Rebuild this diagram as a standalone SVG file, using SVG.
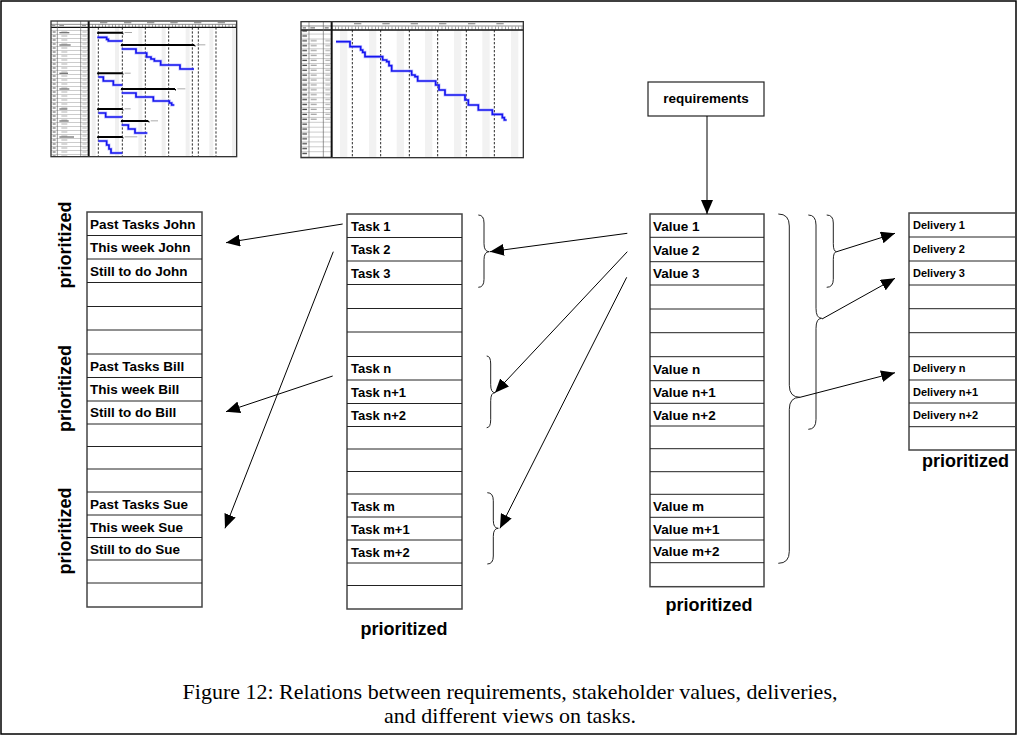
<svg xmlns="http://www.w3.org/2000/svg" width="1018" height="736" viewBox="0 0 1018 736">
<style>
.cell{fill:#fff;stroke:#444;stroke-width:1.5}
.rows{fill:none;stroke:#222;stroke-width:1}
.lbl{font-family:"Liberation Sans",Arial,sans-serif;font-weight:bold;font-size:13.5px;fill:#000}
.tsk{font-size:13px}
.dlv{font-size:11px}
.prio{font-family:"Liberation Sans",Arial,sans-serif;font-weight:bold;font-size:18px;fill:#000}
.conn{fill:none;stroke:#000;stroke-width:1;marker-end:url(#ah)}
.brace{fill:none;stroke:#222;stroke-width:1}
.cap{font-family:"Liberation Serif","Times New Roman",serif;font-size:22px;fill:#000;text-anchor:middle}
.blue{fill:none;stroke:#1515f0;stroke-width:5;stroke-linejoin:miter}
.halo{fill:none;stroke:#9a9aff;stroke-width:9;opacity:0.6}
.dash{stroke:#000;stroke-width:2.5;stroke-dasharray:7 5}
</style>
<defs>
<marker id="ah" markerUnits="userSpaceOnUse" markerWidth="15" markerHeight="12" refX="14" refY="6" orient="auto">
<path d="M0,0 L14,6 L0,12 z" fill="#000"/>
</marker>
<clipPath id="inner"><rect x="0" y="0" width="1015" height="736"/></clipPath>
<pattern id="g1row" patternUnits="userSpaceOnUse" x="0" y="45" width="600" height="12">
<rect x="33" y="0" width="113" height="1.3" fill="#888"/>
<rect x="38" y="4.5" width="9" height="3" fill="#555"/>
<rect x="64" y="4.5" width="18" height="3" fill="#b0b0b0"/>
<rect x="127" y="4.5" width="13" height="3" fill="#b0b0b0"/>
</pattern>
<pattern id="g2row" patternUnits="userSpaceOnUse" x="0" y="70.5" width="700" height="14.7">
<rect x="33" y="0" width="92" height="1.3" fill="#888"/>
<rect x="37" y="5" width="14" height="4" fill="#444"/>
</pattern>
<pattern id="g2name" patternUnits="userSpaceOnUse" x="0" y="70.5" width="700" height="14.7">
<rect x="62" y="5" width="18" height="3.5" fill="#999"/>
<rect x="106" y="5" width="14" height="3.5" fill="#aaa"/>
</pattern>
</defs>
<rect x="0" y="0" width="1018" height="736" fill="#fff"/>

<g id="gantt-1" transform="translate(40,15) scale(0.33333)">
<rect x="33" y="18" width="557" height="407" fill="#fff"/>
<g fill="#f0f0f0">
<rect x="155" y="37" width="12" height="388"/><rect x="225" y="37" width="12" height="388"/><rect x="295" y="37" width="12" height="388"/><rect x="365" y="37" width="12" height="388"/><rect x="437" y="37" width="12" height="388"/><rect x="508" y="37" width="12" height="388"/><rect x="576" y="37" width="12" height="388"/>
</g>
<path class="dash" d="M175 37V425M247 37V425M316 37V425M386 37V425M457 37V425M475 37V425M528 37V425"/>
<rect x="33" y="45" width="113" height="380" fill="url(#g1row)"/>
<path d="M33 28H590" stroke="#555" stroke-width="2"/>
<path d="M146 32.5H590" stroke="#777" stroke-width="8" stroke-dasharray="2 8"/>
<path d="M33 37H590" stroke="#111" stroke-width="4"/>
<g fill="#999"><rect x="180" y="21" width="22" height="4"/><rect x="252" y="21" width="22" height="4"/><rect x="321" y="21" width="22" height="4"/><rect x="391" y="21" width="22" height="4"/><rect x="462" y="21" width="22" height="4"/><rect x="533" y="21" width="22" height="4"/><rect x="36" y="30" width="10" height="4"/><rect x="58" y="30" width="14" height="4"/><rect x="126" y="30" width="12" height="4"/></g>
<path d="M52 18V425M122 18V425" stroke="#666" stroke-width="2"/>
<path d="M146 18V425" stroke="#111" stroke-width="6"/>
<g fill="#777"><rect x="58" y="51" width="30" height="4"/><rect x="58" y="88" width="34" height="4"/><rect x="58" y="173" width="26" height="4"/><rect x="58" y="220" width="30" height="4"/><rect x="58" y="280" width="24" height="4"/><rect x="58" y="316" width="28" height="4"/><rect x="58" y="364" width="44" height="4"/></g>
<g stroke="#000" stroke-width="6"><path d="M172 53H247M243 90H463M172 175H247M243 222H405M172 282H247M243 318H325M172 366H247"/></g>
<g fill="#000"><path d="M170 53h6v6zM244 53h6v6zM241 90h6v6zM460 90h6v6zM170 175h6v6zM244 175h6v6zM241 222h6v6zM402 222h6v6zM170 282h6v6zM244 282h6v6zM241 318h6v6zM322 318h6v6zM170 366h6v6zM244 366h6v6z"/></g>
<g fill="#aaa"><rect x="254" y="51" width="22" height="3"/><rect x="470" y="88" width="26" height="3"/><rect x="254" y="173" width="18" height="3"/><rect x="412" y="220" width="24" height="3"/><rect x="254" y="280" width="18" height="3"/><rect x="332" y="316" width="22" height="3"/><rect x="254" y="364" width="38" height="3"/></g>
<g class="halo">
<path d="M172 67H200V73H205V78H247"/><path d="M245 102H288V114H320V126H333V132H343V138H362V150H420V162H462"/><path d="M175 186H190V198H220V210H247"/><path d="M245 234H288V246H340V258H388V264H395V270H403"/><path d="M175 294H197V306H247"/><path d="M245 330H265V342H285V354H322"/><path d="M175 378H200V390H207V402H213V414H247"/>
</g>
<g class="blue">
<path d="M172 67H200V73H205V78H247"/><path d="M245 102H288V114H320V126H333V132H343V138H362V150H420V162H462"/><path d="M175 186H190V198H220V210H247"/><path d="M245 234H288V246H340V258H388V264H395V270H403"/><path d="M175 294H197V306H247"/><path d="M245 330H265V342H285V354H322"/><path d="M175 378H200V390H207V402H213V414H247"/>
</g>
<rect x="33" y="18" width="557" height="407" fill="none" stroke="#333" stroke-width="4"/>
</g>

<g id="gantt-2" transform="translate(290,15) scale(0.33333)">
<rect x="33" y="20" width="667" height="408" fill="#fff"/>
<g fill="#f2f2f2">
<rect x="150" y="45" width="22" height="383"/><rect x="237" y="45" width="22" height="383"/><rect x="320" y="45" width="22" height="383"/><rect x="405" y="45" width="22" height="383"/><rect x="492" y="45" width="22" height="383"/><rect x="577" y="45" width="22" height="383"/><rect x="663" y="45" width="22" height="383"/>
</g>
<path class="dash" d="M187 45V428M272 45V428M358 45V428M443 45V428M529 45V428M613 45V428"/>
<rect x="33" y="45" width="92" height="383" fill="url(#g2row)"/>
<rect x="57" y="70.5" width="68" height="250" fill="url(#g2name)"/>
<path d="M33 33H700" stroke="#555" stroke-width="2"/>
<path d="M125 39H700" stroke="#777" stroke-width="9" stroke-dasharray="2 8"/>
<path d="M33 45H700" stroke="#111" stroke-width="4"/>
<g fill="#999"><rect x="192" y="24" width="22" height="4"/><rect x="277" y="24" width="22" height="4"/><rect x="362" y="24" width="22" height="4"/><rect x="447" y="24" width="22" height="4"/><rect x="534" y="24" width="22" height="4"/><rect x="619" y="24" width="22" height="4"/><rect x="38" y="36" width="10" height="5"/><rect x="61" y="36" width="14" height="5"/><rect x="104" y="36" width="12" height="5"/></g>
<path d="M57 20V428M100 20V428" stroke="#666" stroke-width="2"/>
<path d="M125 20V428" stroke="#111" stroke-width="6"/>
<path class="halo" d="M138 80H180V95H212V105H218V112H225V125H278V135H290V140H297V152H305V168H365V180H375V185H383V198H437V210H447V225H465V240H525V255H535V270H565V285H607V298H637V308H643V315H650"/>
<path class="blue" d="M138 80H180V95H212V105H218V112H225V125H278V135H290V140H297V152H305V168H365V180H375V185H383V198H437V210H447V225H465V240H525V255H535V270H565V285H607V298H637V308H643V315H650"/>
<rect x="33" y="20" width="667" height="408" fill="none" stroke="#333" stroke-width="4"/>
</g>

<g id="people-column">
<rect class="cell" x="87" y="212" width="115" height="395"/>
<path class="rows" d="M87 235.5H202M87 259H202M87 282.5H202M87 306.5H202M87 330H202M87 354H202M87 377.5H202M87 401H202M87 424H202M87 446.5H202M87 469H202M87 492H202M87 515H202M87 537.5H202M87 560H202M87 583H202"/>
<text class="lbl" x="90" y="228.5">Past Tasks John</text>
<text class="lbl" x="90" y="252">This week John</text>
<text class="lbl" x="90" y="275.5">Still to do John</text>
<text class="lbl" x="90" y="370.8">Past Tasks Bill</text>
<text class="lbl" x="90" y="394">This week Bill</text>
<text class="lbl" x="90" y="417">Still to do Bill</text>
<text class="lbl" x="90" y="508.8">Past Tasks Sue</text>
<text class="lbl" x="90" y="531.5">This week Sue</text>
<text class="lbl" x="90" y="554">Still to do Sue</text>
<text class="prio" text-anchor="middle" transform="translate(70.5,245) rotate(-90)">prioritized</text>
<text class="prio" text-anchor="middle" transform="translate(70.5,388.5) rotate(-90)">prioritized</text>
<text class="prio" text-anchor="middle" transform="translate(70.5,531) rotate(-90)">prioritized</text>
</g>

<g id="task-column">
<rect class="cell" x="347" y="214" width="115" height="395"/>
<path class="rows" d="M347 237.5H462M347 261H462M347 284.5H462M347 308.5H462M347 332H462M347 356.5H462M347 380H462M347 403.5H462M347 426.5H462M347 449H462M347 471.5H462M347 494H462M347 517H462M347 540H462M347 563H462M347 585.5H462"/>
<text class="lbl tsk" x="351" y="230.5">Task 1</text>
<text class="lbl tsk" x="351" y="254">Task 2</text>
<text class="lbl tsk" x="351" y="277.5">Task 3</text>
<text class="lbl tsk" x="351" y="373">Task n</text>
<text class="lbl tsk" x="351" y="396.5">Task n+1</text>
<text class="lbl tsk" x="351" y="419.5">Task n+2</text>
<text class="lbl tsk" x="351" y="510.5">Task m</text>
<text class="lbl tsk" x="351" y="533.5">Task m+1</text>
<text class="lbl tsk" x="351" y="556.5">Task m+2</text>
<text class="prio" x="404" y="635" text-anchor="middle">prioritized</text>
</g>

<g id="requirements">
<rect x="648" y="82" width="116" height="34" fill="#fff" stroke="#222" stroke-width="1.2"/>
<text class="lbl" x="706" y="102.5" text-anchor="middle">requirements</text>
</g>

<g id="value-column">
<rect class="cell" x="650" y="214" width="114" height="372.7"/>
<path class="rows" d="M650 237.3H764M650 261.7H764M650 285H764M650 309H764M650 332.7H764M650 356.7H764M650 380.7H764M650 403.3H764M650 426H764M650 448.7H764M650 471.7H764M650 494.3H764M650 517.3H764M650 540H764M650 562.7H764"/>
<text class="lbl" x="653" y="230.7">Value 1</text>
<text class="lbl" x="653" y="254.5">Value 2</text>
<text class="lbl" x="653" y="278.3">Value 3</text>
<text class="lbl" x="653" y="373.7">Value n</text>
<text class="lbl" x="653" y="397">Value n+1</text>
<text class="lbl" x="653" y="419.7">Value n+2</text>
<text class="lbl" x="653" y="510.8">Value m</text>
<text class="lbl" x="653" y="533.7">Value m+1</text>
<text class="lbl" x="653" y="556.4">Value m+2</text>
<text class="prio" x="709" y="611" text-anchor="middle">prioritized</text>
</g>

<g id="delivery-column" clip-path="url(#inner)">
<rect class="cell" x="909" y="213" width="130" height="237"/>
<path class="rows" d="M909 237H1018M909 261H1018M909 285H1018M909 308.7H1018M909 332.7H1018M909 356.7H1018M909 380H1018M909 403H1018M909 426.7H1018"/>
<text class="lbl dlv" x="913" y="229">Delivery 1</text>
<text class="lbl dlv" x="913" y="253">Delivery 2</text>
<text class="lbl dlv" x="913" y="277">Delivery 3</text>
<text class="lbl dlv" x="913" y="372.3">Delivery n</text>
<text class="lbl dlv" x="913" y="395.5">Delivery n+1</text>
<text class="lbl dlv" x="913" y="418.8">Delivery n+2</text>
<text class="prio" x="922" y="467">prioritized</text>
</g>

<g id="braces">
<path class="brace" d="M478.3,215 Q484,215 484,223 L484,243.7 Q484,251.7 489.3,251.7 Q484,251.7 484,259.7 L484,279.3 Q484,287.3 478.3,287.3"/>
<path class="brace" d="M486.7,356 Q490.7,356 490.7,364 L490.7,384.7 Q490.7,392.7 495,392.7 Q490.7,392.7 490.7,400.7 L490.7,419.7 Q490.7,427.7 486.7,427.7"/>
<path class="brace" d="M487.3,492.7 Q493.3,492.7 493.3,500.7 L493.3,520.3 Q493.3,528.3 498.3,528.3 Q493.3,528.3 493.3,536.3 L493.3,556 Q493.3,564 487.3,564"/>
<path class="brace" d="M826.7,215 Q833.3,215 833.3,223 L833.3,243.7 Q833.3,251.7 836.7,251.7 Q833.3,251.7 833.3,259.7 L833.3,279.3 Q833.3,287.3 826.7,287.3"/>
<path class="brace" d="M808.3,215 Q816,215 816,225 L816,308.3 Q816,318.3 821.7,318.3 Q816,318.3 816,328.3 L816,419.3 Q816,429.3 808.3,429.3"/>
<path class="brace" d="M778.3,214 Q789.3,214 789.3,226 L789.3,385.3 Q789.3,397.3 800,397.3 Q789.3,397.3 789.3,409.3 L789.3,551.3 Q789.3,563.3 778.3,563.3"/>
</g>

<g id="connectors">
<line class="conn" x1="342.7" y1="224" x2="226" y2="242.7"/>
<line class="conn" x1="333.3" y1="251.7" x2="225" y2="528.3"/>
<line class="conn" x1="332.7" y1="376" x2="226" y2="411.7"/>
<line class="conn" x1="627.3" y1="233.3" x2="490" y2="251.7"/>
<line class="conn" x1="627.3" y1="251.7" x2="495" y2="392.7"/>
<line class="conn" x1="626.7" y1="277.3" x2="500" y2="528.3"/>
<line class="conn" x1="707" y1="116" x2="707" y2="214"/>
<line class="conn" x1="836.7" y1="251.7" x2="895" y2="233.3"/>
<line class="conn" x1="822" y1="319" x2="895" y2="278.3"/>
<line class="conn" x1="800" y1="397.3" x2="895" y2="372.7"/>
</g>

<g id="caption">
<text class="cap" x="510" y="699">Figure 12: Relations between requirements, stakeholder values, deliveries,</text>
<text class="cap" x="510" y="723">and different views on tasks.</text>
</g>

<rect id="frame" x="1" y="1" width="1015" height="733" fill="none" stroke="#000" stroke-width="1.5"/>
</svg>
